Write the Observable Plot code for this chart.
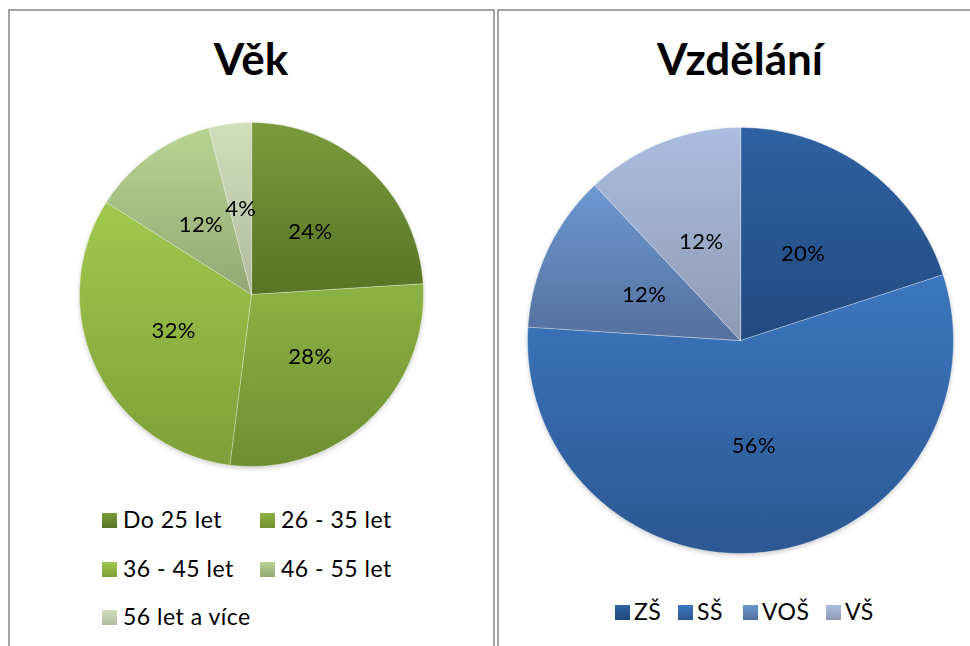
<!DOCTYPE html>
<html><head><meta charset="utf-8">
<script src="https://cdn.jsdelivr.net/npm/d3@7"></script>
<script src="https://cdn.jsdelivr.net/npm/@observablehq/plot@0.6"></script>
<style>
body{margin:0;background:#fff;font-family:Lato,"Open Sans",sans-serif;}
#page{position:relative;width:970px;height:646px;overflow:hidden;background:#fff;}
.panel{position:absolute;top:9px;height:700px;border:2px solid #a3a3a3;box-sizing:border-box;}
.title{position:absolute;font-weight:700;font-size:44px;line-height:50px;color:#000;transform:translateX(-50%);white-space:nowrap;}
.lg{position:absolute;font-size:23px;letter-spacing:0.5px;line-height:24px;white-space:nowrap;color:#000;}
.sw{position:absolute;width:15px;height:15px;}
.pie{position:absolute;filter:drop-shadow(0px 2px 2px rgba(0,0,0,0.18));}
</style></head><body><div id="page"></div>
<script>
// ---- data ----
const ageTitle = "Věk";
const ageLabels = ["Do 25 let", "26 - 35 let", "36 - 45 let", "46 - 55 let", "56 let a více"];
const ageValues = [24, 28, 32, 12, 4];
const ageTop = ["#799b3b", "#8db244", "#a0c84d", "#b7d492", "#d1dfbb"];
const ageBottom = ["#587426", "#6e8f31", "#7f9f38", "#93a873", "#b0b99f"];

const eduTitle = "Vzdělání";
const eduLabels = ["ZŠ", "SŠ", "VOŠ", "VŠ"];
const eduValues = [20, 56, 12, 12];
const eduTop = ["#2e62a2", "#3c77bf", "#6c98d1", "#abbde0"];
const eduBottom = ["#234a7f", "#2c5893", "#54709e", "#8d9ab3"];

const page = document.getElementById("page");

function el(cls, style, html) {
  const d = document.createElement("div");
  d.className = cls;
  Object.assign(d.style, style);
  if (html != null) d.textContent = html;
  page.appendChild(d);
  return d;
}

function pie({values, labels, tops, bottoms, id, cx, cy, r}) {
  const total = d3.sum(values);
  let acc = 0;
  const slices = values.map((v, i) => {
    const a0 = acc / total; acc += v;
    return {i, label: labels[i], value: v, a0, a1: acc / total};
  });
  const marks = slices.map(s => {
    const n = Math.max(2, Math.ceil((s.a1 - s.a0) * 360));
    const pts = [{x: 0, y: 0}];
    for (let k = 0; k <= n; k++) {
      const t = 2 * Math.PI * (s.a0 + (s.a1 - s.a0) * k / n);
      pts.push({x: Math.sin(t), y: Math.cos(t)});
    }
    return Plot.line(pts, {x: "x", y: "y", curve: "linear-closed",
      fill: `url(#${id}${s.i})`, stroke: "white", strokeOpacity: 0.45, strokeWidth: 0.8});
  });
  const mid = s => 2 * Math.PI * (s.a0 + s.a1) / 2;
  marks.push(Plot.text(slices, {
    x: s => 0.5 * Math.sin(mid(s)), y: s => 0.5 * Math.cos(mid(s)),
    text: s => s.value + "%", fontSize: 22, fontFamily: "Lato", fill: "#000"
  }));
  const m = 4;
  const svg = Plot.plot({
    width: 2 * r + 2 * m, height: 2 * r + 2 * m, margin: m,
    x: {domain: [-1, 1], axis: null}, y: {domain: [-1, 1], axis: null},
    style: {background: "transparent", overflow: "visible", fontFamily: "Lato", letterSpacing: "0.4px"},
    marks
  });
  const defs = d3.select(svg).insert("defs", ":first-child");
  tops.forEach((c, i) => {
    const g = defs.append("linearGradient").attr("id", id + i)
      .attr("x1", 0).attr("y1", 0).attr("x2", 0).attr("y2", 1);
    g.append("stop").attr("offset", "0%").attr("stop-color", c);
    g.append("stop").attr("offset", "100%").attr("stop-color", bottoms[i]);
  });
  const wrap = el("pie", {left: (cx - r - m) + "px", top: (cy - r - m) + "px"});
  wrap.appendChild(svg);
}

// panels
el("panel", {left: "8px", width: "487px"});
el("panel", {left: "497px", width: "490px"});

// titles
el("title", {left: "251px", top: "33px"}, ageTitle);
el("title", {left: "740px", top: "33px"}, eduTitle);

pie({values: ageValues, labels: ageLabels, tops: ageTop, bottoms: ageBottom, id: "gA", cx: 251, cy: 294, r: 172});
pie({values: eduValues, labels: eduLabels, tops: eduTop, bottoms: eduBottom, id: "gE", cx: 740, cy: 340, r: 213});

// legends
function swatch(x, baseline, top, bottom) {
  el("sw", {left: x + "px", top: (baseline - 15) + "px", background: `linear-gradient(${top}, ${bottom})`});
}
function label(x, baseline, text) {
  el("lg", {left: x + "px", top: (baseline - 21) + "px"}, text);
}
const ageLegendPos = [[102, 528], [260, 528], [102, 577], [260, 577], [102, 625]];
ageLabels.forEach((t, i) => {
  const [x, b] = ageLegendPos[i];
  swatch(x, b, ageTop[i], ageBottom[i]);
  label(x + 21, b, t);
});
const eduLegendX = [615, 678, 743, 826];
eduLabels.forEach((t, i) => {
  const x = eduLegendX[i];
  swatch(x, 620, eduTop[i], eduBottom[i]);
  label(x + 19, 620, t);
});
</script></body></html>
